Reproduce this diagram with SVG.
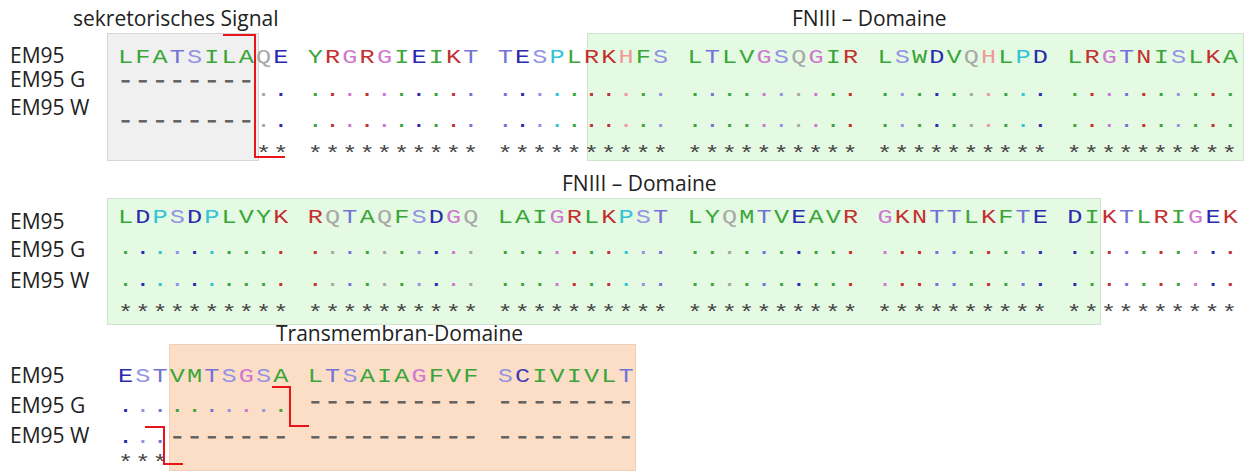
<svg xmlns="http://www.w3.org/2000/svg" width="1249" height="473" viewBox="0 0 1249 473">
<style>
.lbl{font-family:"Open Sans","Noto Sans","Liberation Sans",sans-serif;font-size:21px;fill:#222}
.seq{font-family:"Liberation Mono","DejaVu Sans Mono",monospace;font-size:21px;letter-spacing:1.775px;white-space:pre}
.dash{fill:#606060;stroke:#606060;stroke-width:0.9}
.star{fill:#444}
.g{fill:#3aa63a}.t{fill:#7373d6}.s{fill:#9393e4}.b{fill:#2a2ab0}.r{fill:#c43030}.m{fill:#d078d0}.q{fill:#a8a8a8}.p{fill:#30c4d4}.h{fill:#f09a9a}.c{fill:#3c3cb6}
.grey{fill:#f0f0f0;stroke:#d6d6d6}
.green{fill:#e5fae3;stroke:#d2e4d0}
.orange{fill:#fcdec6;stroke:#eed0b8}
.br{fill:none;stroke:#e8141a;stroke-width:2}
</style>

<g id="regions">
<g id="signal-region"><rect class="grey" x="107.5" y="33.5" width="151" height="127"/><text class="lbl" x="73" y="26">sekretorisches Signal</text></g>
<g id="fn3-region-1"><rect class="green" x="587.5" y="33.5" width="656" height="127"/><text class="lbl" x="792" y="26">FNIII – Domaine</text></g>
<g id="fn3-region-2"><rect class="green" x="107.5" y="198.5" width="993" height="126"/><text class="lbl" x="562" y="191">FNIII – Domaine</text></g>
<g id="tm-region"><rect class="orange" x="169.5" y="344.5" width="466" height="126"/><text class="lbl" x="276" y="341">Transmembran-Domaine</text></g>
</g>

<g id="labels">
<text class="lbl" x="10" y="63">EM95</text>
<text class="lbl" x="10" y="87">EM95 G</text>
<text class="lbl" x="10" y="115">EM95 W</text>
<text class="lbl" x="10" y="229">EM95</text>
<text class="lbl" x="10" y="257">EM95 G</text>
<text class="lbl" x="10" y="288">EM95 W</text>
<text class="lbl" x="10" y="383">EM95</text>
<text class="lbl" x="10" y="413">EM95 G</text>
<text class="lbl" x="10" y="443">EM95 W</text>
</g>

<g id="block-1" transform="translate(118 0) scale(1.2 1)">
<text class="seq" x="0" y="63"><tspan class="g">LFA</tspan><tspan class="t">T</tspan><tspan class="s">S</tspan><tspan class="g">ILA</tspan><tspan class="q">Q</tspan><tspan class="b">E </tspan><tspan class="g">Y</tspan><tspan class="r">R</tspan><tspan class="m">G</tspan><tspan class="r">R</tspan><tspan class="m">G</tspan><tspan class="g">I</tspan><tspan class="b">E</tspan><tspan class="g">I</tspan><tspan class="r">K</tspan><tspan class="t">T T</tspan><tspan class="b">E</tspan><tspan class="s">S</tspan><tspan class="p">P</tspan><tspan class="g">L</tspan><tspan class="r">RK</tspan><tspan class="h">H</tspan><tspan class="g">F</tspan><tspan class="s">S </tspan><tspan class="g">L</tspan><tspan class="t">T</tspan><tspan class="g">LV</tspan><tspan class="m">G</tspan><tspan class="s">S</tspan><tspan class="q">Q</tspan><tspan class="m">G</tspan><tspan class="g">I</tspan><tspan class="r">R </tspan><tspan class="g">L</tspan><tspan class="s">S</tspan><tspan class="g">W</tspan><tspan class="b">D</tspan><tspan class="g">V</tspan><tspan class="q">Q</tspan><tspan class="h">H</tspan><tspan class="g">L</tspan><tspan class="p">P</tspan><tspan class="b">D </tspan><tspan class="g">L</tspan><tspan class="r">R</tspan><tspan class="m">G</tspan><tspan class="t">T</tspan><tspan class="r">N</tspan><tspan class="g">I</tspan><tspan class="s">S</tspan><tspan class="g">L</tspan><tspan class="r">K</tspan><tspan class="g">A</tspan></text>
<text class="seq dash" x="0" y="87">--------</text>
<text class="seq" x="115" y="96"><tspan class="q">.</tspan><tspan class="b">. </tspan><tspan class="g">.</tspan><tspan class="r">.</tspan><tspan class="m">.</tspan><tspan class="r">.</tspan><tspan class="m">.</tspan><tspan class="g">.</tspan><tspan class="b">.</tspan><tspan class="g">.</tspan><tspan class="r">.</tspan><tspan class="t">. .</tspan><tspan class="b">.</tspan><tspan class="s">.</tspan><tspan class="p">.</tspan><tspan class="g">.</tspan><tspan class="r">..</tspan><tspan class="h">.</tspan><tspan class="g">.</tspan><tspan class="s">. </tspan><tspan class="g">.</tspan><tspan class="t">.</tspan><tspan class="g">..</tspan><tspan class="m">.</tspan><tspan class="s">.</tspan><tspan class="q">.</tspan><tspan class="m">.</tspan><tspan class="g">.</tspan><tspan class="r">. </tspan><tspan class="g">.</tspan><tspan class="s">.</tspan><tspan class="g">.</tspan><tspan class="b">.</tspan><tspan class="g">.</tspan><tspan class="q">.</tspan><tspan class="h">.</tspan><tspan class="g">.</tspan><tspan class="p">.</tspan><tspan class="b">. </tspan><tspan class="g">.</tspan><tspan class="r">.</tspan><tspan class="m">.</tspan><tspan class="t">.</tspan><tspan class="r">.</tspan><tspan class="g">.</tspan><tspan class="s">.</tspan><tspan class="g">.</tspan><tspan class="r">.</tspan><tspan class="g">.</tspan></text>
<text class="seq" x="0" y="127"><tspan class="dash">--------</tspan><tspan class="q">.</tspan><tspan class="b">. </tspan><tspan class="g">.</tspan><tspan class="r">.</tspan><tspan class="m">.</tspan><tspan class="r">.</tspan><tspan class="m">.</tspan><tspan class="g">.</tspan><tspan class="b">.</tspan><tspan class="g">.</tspan><tspan class="r">.</tspan><tspan class="t">. .</tspan><tspan class="b">.</tspan><tspan class="s">.</tspan><tspan class="p">.</tspan><tspan class="g">.</tspan><tspan class="r">..</tspan><tspan class="h">.</tspan><tspan class="g">.</tspan><tspan class="s">. </tspan><tspan class="g">.</tspan><tspan class="t">.</tspan><tspan class="g">..</tspan><tspan class="m">.</tspan><tspan class="s">.</tspan><tspan class="q">.</tspan><tspan class="m">.</tspan><tspan class="g">.</tspan><tspan class="r">. </tspan><tspan class="g">.</tspan><tspan class="s">.</tspan><tspan class="g">.</tspan><tspan class="b">.</tspan><tspan class="g">.</tspan><tspan class="q">.</tspan><tspan class="h">.</tspan><tspan class="g">.</tspan><tspan class="p">.</tspan><tspan class="b">. </tspan><tspan class="g">.</tspan><tspan class="r">.</tspan><tspan class="m">.</tspan><tspan class="t">.</tspan><tspan class="r">.</tspan><tspan class="g">.</tspan><tspan class="s">.</tspan><tspan class="g">.</tspan><tspan class="r">.</tspan><tspan class="g">.</tspan></text>
<text class="seq star" x="115" y="160">** ********** ********** ********** ********** **********</text>
</g>

<g id="block-2" transform="translate(118 0) scale(1.2 1)">
<text class="seq" x="0" y="223"><tspan class="g">L</tspan><tspan class="b">D</tspan><tspan class="p">P</tspan><tspan class="s">S</tspan><tspan class="b">D</tspan><tspan class="p">P</tspan><tspan class="g">LVY</tspan><tspan class="r">K R</tspan><tspan class="q">Q</tspan><tspan class="t">T</tspan><tspan class="g">A</tspan><tspan class="q">Q</tspan><tspan class="g">F</tspan><tspan class="s">S</tspan><tspan class="b">D</tspan><tspan class="m">G</tspan><tspan class="q">Q </tspan><tspan class="g">LAI</tspan><tspan class="m">G</tspan><tspan class="r">R</tspan><tspan class="g">L</tspan><tspan class="r">K</tspan><tspan class="p">P</tspan><tspan class="s">S</tspan><tspan class="t">T </tspan><tspan class="g">LY</tspan><tspan class="q">Q</tspan><tspan class="g">M</tspan><tspan class="t">T</tspan><tspan class="g">V</tspan><tspan class="b">E</tspan><tspan class="g">AV</tspan><tspan class="r">R </tspan><tspan class="m">G</tspan><tspan class="r">KN</tspan><tspan class="t">TT</tspan><tspan class="g">L</tspan><tspan class="r">K</tspan><tspan class="g">F</tspan><tspan class="t">T</tspan><tspan class="b">E D</tspan><tspan class="g">I</tspan><tspan class="r">K</tspan><tspan class="t">T</tspan><tspan class="g">L</tspan><tspan class="r">R</tspan><tspan class="g">I</tspan><tspan class="m">G</tspan><tspan class="b">E</tspan><tspan class="r">K</tspan></text>
<text class="seq" x="0" y="254"><tspan class="g">.</tspan><tspan class="b">.</tspan><tspan class="p">.</tspan><tspan class="s">.</tspan><tspan class="b">.</tspan><tspan class="p">.</tspan><tspan class="g">...</tspan><tspan class="r">. .</tspan><tspan class="q">.</tspan><tspan class="t">.</tspan><tspan class="g">.</tspan><tspan class="q">.</tspan><tspan class="g">.</tspan><tspan class="s">.</tspan><tspan class="b">.</tspan><tspan class="m">.</tspan><tspan class="q">. </tspan><tspan class="g">...</tspan><tspan class="m">.</tspan><tspan class="r">.</tspan><tspan class="g">.</tspan><tspan class="r">.</tspan><tspan class="p">.</tspan><tspan class="s">.</tspan><tspan class="t">. </tspan><tspan class="g">..</tspan><tspan class="q">.</tspan><tspan class="g">.</tspan><tspan class="t">.</tspan><tspan class="g">.</tspan><tspan class="b">.</tspan><tspan class="g">..</tspan><tspan class="r">. </tspan><tspan class="m">.</tspan><tspan class="r">..</tspan><tspan class="t">..</tspan><tspan class="g">.</tspan><tspan class="r">.</tspan><tspan class="g">.</tspan><tspan class="t">.</tspan><tspan class="b">. .</tspan><tspan class="g">.</tspan><tspan class="r">.</tspan><tspan class="t">.</tspan><tspan class="g">.</tspan><tspan class="r">.</tspan><tspan class="g">.</tspan><tspan class="m">.</tspan><tspan class="b">.</tspan><tspan class="r">.</tspan></text>
<text class="seq" x="0" y="286"><tspan class="g">.</tspan><tspan class="b">.</tspan><tspan class="p">.</tspan><tspan class="s">.</tspan><tspan class="b">.</tspan><tspan class="p">.</tspan><tspan class="g">...</tspan><tspan class="r">. .</tspan><tspan class="q">.</tspan><tspan class="t">.</tspan><tspan class="g">.</tspan><tspan class="q">.</tspan><tspan class="g">.</tspan><tspan class="s">.</tspan><tspan class="b">.</tspan><tspan class="m">.</tspan><tspan class="q">. </tspan><tspan class="g">...</tspan><tspan class="m">.</tspan><tspan class="r">.</tspan><tspan class="g">.</tspan><tspan class="r">.</tspan><tspan class="p">.</tspan><tspan class="s">.</tspan><tspan class="t">. </tspan><tspan class="g">..</tspan><tspan class="q">.</tspan><tspan class="g">.</tspan><tspan class="t">.</tspan><tspan class="g">.</tspan><tspan class="b">.</tspan><tspan class="g">..</tspan><tspan class="r">. </tspan><tspan class="m">.</tspan><tspan class="r">..</tspan><tspan class="t">..</tspan><tspan class="g">.</tspan><tspan class="r">.</tspan><tspan class="g">.</tspan><tspan class="t">.</tspan><tspan class="b">. .</tspan><tspan class="g">.</tspan><tspan class="r">.</tspan><tspan class="t">.</tspan><tspan class="g">.</tspan><tspan class="r">.</tspan><tspan class="g">.</tspan><tspan class="m">.</tspan><tspan class="b">.</tspan><tspan class="r">.</tspan></text>
<text class="seq star" x="0" y="319">********** ********** ********** ********** ********** **********</text>
</g>

<g id="block-3" transform="translate(118 0) scale(1.2 1)">
<text class="seq" x="0" y="382"><tspan class="b">E</tspan><tspan class="s">S</tspan><tspan class="t">T</tspan><tspan class="g">VM</tspan><tspan class="t">T</tspan><tspan class="s">S</tspan><tspan class="m">G</tspan><tspan class="s">S</tspan><tspan class="g">A L</tspan><tspan class="t">T</tspan><tspan class="s">S</tspan><tspan class="g">AIA</tspan><tspan class="m">G</tspan><tspan class="g">FVF </tspan><tspan class="s">S</tspan><tspan class="c">C</tspan><tspan class="g">IVIVL</tspan><tspan class="t">T</tspan></text>
<text class="seq" x="0" y="412"><tspan class="b">.</tspan><tspan class="s">.</tspan><tspan class="t">.</tspan><tspan class="g">..</tspan><tspan class="t">.</tspan><tspan class="s">.</tspan><tspan class="m">.</tspan><tspan class="s">.</tspan><tspan class="g">.</tspan></text>
<text class="seq dash" x="158.125" y="408">---------- --------</text>
<text class="seq" x="0" y="443"><tspan class="b">.</tspan><tspan class="s">.</tspan><tspan class="t">.</tspan><tspan class="dash">------- ---------- --------</tspan></text>
<text class="seq star" x="0" y="469">***</text>
</g>

<g id="connectors">
<path class="br" d="M223,35 H255 V157 H285"/>
<path class="br" d="M272,387 H290 V426 H309"/>
<path class="br" d="M145,427 H164 V464 H183"/>
</g>
</svg>
